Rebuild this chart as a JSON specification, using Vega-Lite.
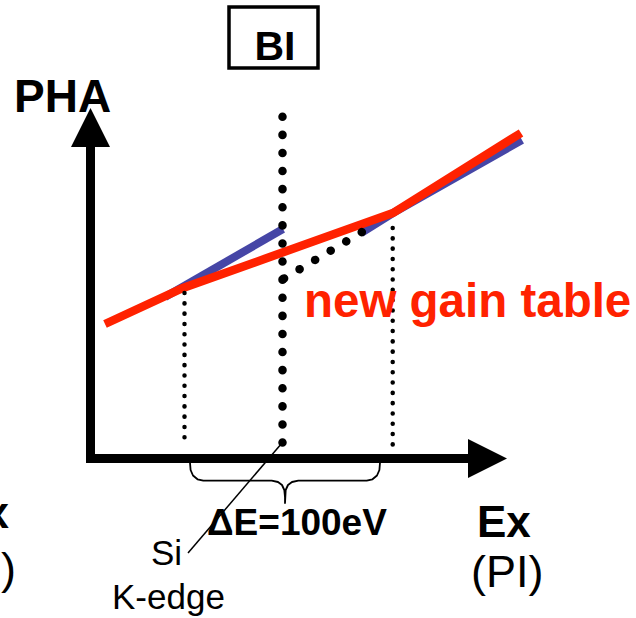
{
  "$schema": "https://vega.github.io/schema/vega-lite/v6.json",
  "width": 636,
  "height": 618,
  "autosize": "none",
  "padding": 0,
  "background": "white",
  "config": {"view": {"stroke": null}},
  "datasets": {
    "blue": [
      {"s": 1, "o": 1, "x": 165, "y": 297},
      {"s": 1, "o": 2, "x": 283, "y": 229},
      {"s": 2, "o": 1, "x": 361, "y": 233},
      {"s": 2, "o": 2, "x": 393, "y": 213},
      {"s": 2, "o": 3, "x": 522, "y": 140}
    ],
    "red": [
      {"s": 1, "o": 1, "x": 105, "y": 324},
      {"s": 1, "o": 2, "x": 183, "y": 288},
      {"s": 1, "o": 3, "x": 393, "y": 213},
      {"s": 1, "o": 4, "x": 521, "y": 133}
    ],
    "thin": [
      {"s": 1, "o": 1, "x": 184.5, "y": 293},
      {"s": 1, "o": 2, "x": 184.5, "y": 447},
      {"s": 2, "o": 1, "x": 392.7, "y": 228},
      {"s": 2, "o": 2, "x": 392.7, "y": 445}
    ],
    "thick": [
      {"s": 1, "o": 1, "x": 282.5, "y": 116.7},
      {"s": 1, "o": 2, "x": 282.5, "y": 460},
      {"s": 2, "o": 1, "x": 284, "y": 278.5},
      {"s": 2, "o": 2, "x": 362, "y": 232}
    ],
    "axes": [
      {"s": 1, "o": 1, "x": 90.5, "y": 463},
      {"s": 1, "o": 2, "x": 90.5, "y": 135},
      {"s": 2, "o": 1, "x": 86, "y": 458.5},
      {"s": 2, "o": 2, "x": 480, "y": 458.5}
    ],
    "arrowUp": [{"x": 90.5, "y": 127.5}],
    "arrowRight": [{"x": 487.5, "y": 458.5}],
    "box": [{"x": 229, "x2": 318, "y": 7, "y2": 68}],
    "brace": [
      {"o": 1, "x": 190, "y": 462.7},
      {"o": 2, "x": 190.6, "y": 470},
      {"o": 3, "x": 193, "y": 475.5},
      {"o": 4, "x": 197.5, "y": 479.3},
      {"o": 5, "x": 203.3, "y": 480.7},
      {"o": 6, "x": 271.7, "y": 480.7},
      {"o": 7, "x": 278, "y": 482},
      {"o": 8, "x": 282, "y": 485},
      {"o": 9, "x": 284.3, "y": 490},
      {"o": 10, "x": 285, "y": 497},
      {"o": 11, "x": 285, "y": 503},
      {"o": 12, "x": 285.7, "y": 490},
      {"o": 13, "x": 288, "y": 485},
      {"o": 14, "x": 292, "y": 482},
      {"o": 15, "x": 298.3, "y": 480.7},
      {"o": 16, "x": 366.7, "y": 480.7},
      {"o": 17, "x": 372.5, "y": 479.3},
      {"o": 18, "x": 377, "y": 475.5},
      {"o": 19, "x": 379.4, "y": 470},
      {"o": 20, "x": 380, "y": 462.7}
    ],
    "leader": [
      {"o": 1, "x": 188, "y": 553},
      {"o": 2, "x": 282, "y": 443}
    ],
    "pha": [{"x": 14, "y": 112, "t": "PHA"}],
    "ex": [{"x": 477, "y": 537, "t": "Ex"}],
    "boldBI": [{"x": 275, "y": 60, "t": "BI"}],
    "redText": [{"x": 304, "y": 317, "t": "new gain table"}],
    "delta": [{"x": 207, "y": 535, "t": "ΔE=100eV"}],
    "pi": [{"x": 471, "y": 587, "t": "(PI)"}],
    "si": [
      {"x": 151, "y": 565, "t": "Si"},
      {"x": 112, "y": 609, "t": "K-edge"}
    ],
    "edgeX": [{"x": 9, "y": 528, "t": "x"}],
    "edgeP": [{"x": 16, "y": 584, "t": ")"}]
  },
  "encoding": {
    "x": {"field": "x", "type": "quantitative", "scale": {"domain": [0, 636], "nice": false, "zero": false}, "axis": null},
    "y": {"field": "y", "type": "quantitative", "scale": {"domain": [0, 618], "nice": false, "zero": false, "reverse": true}, "axis": null}
  },
  "layer": [
    {
      "data": {"name": "blue"},
      "mark": {"type": "line", "color": "#4646a6", "strokeWidth": 8, "strokeCap": "butt"},
      "encoding": {"detail": {"field": "s"}, "order": {"field": "o"}}
    },
    {
      "data": {"name": "red"},
      "mark": {"type": "line", "color": "#ff2200", "strokeWidth": 8.5, "strokeCap": "butt"},
      "encoding": {"detail": {"field": "s"}, "order": {"field": "o"}}
    },
    {
      "data": {"name": "thin"},
      "mark": {"type": "line", "color": "black", "strokeWidth": 4.5, "strokeCap": "round", "strokeDash": [0.1, 10.2]},
      "encoding": {"detail": {"field": "s"}, "order": {"field": "o"}}
    },
    {
      "data": {"name": "thick"},
      "mark": {"type": "line", "color": "black", "strokeWidth": 8.5, "strokeCap": "round", "strokeDash": [0.1, 18]},
      "encoding": {"detail": {"field": "s"}, "order": {"field": "o"}}
    },
    {
      "data": {"name": "axes"},
      "mark": {"type": "line", "color": "black", "strokeWidth": 9, "strokeCap": "butt"},
      "encoding": {"detail": {"field": "s"}, "order": {"field": "o"}}
    },
    {
      "data": {"name": "arrowUp"},
      "mark": {"type": "point", "shape": "M0,-1L1,1L-1,1Z", "size": 1521, "filled": true, "color": "black", "opacity": 1, "strokeWidth": 0}
    },
    {
      "data": {"name": "arrowRight"},
      "mark": {"type": "point", "shape": "M1,0L-1,-1L-1,1Z", "size": 1521, "filled": true, "color": "black", "opacity": 1, "strokeWidth": 0}
    },
    {
      "data": {"name": "box"},
      "mark": {"type": "rect", "fill": "transparent", "stroke": "black", "strokeWidth": 3.5},
      "encoding": {"x2": {"field": "x2"}, "y2": {"field": "y2"}}
    },
    {
      "data": {"name": "brace"},
      "mark": {"type": "line", "color": "black", "strokeWidth": 1.8, "strokeJoin": "round"},
      "encoding": {"order": {"field": "o"}}
    },
    {
      "data": {"name": "leader"},
      "mark": {"type": "line", "color": "black", "strokeWidth": 1.5},
      "encoding": {"order": {"field": "o"}}
    },
    {
      "data": {"name": "pha"},
      "mark": {"type": "text", "font": "Liberation Sans", "fontWeight": "bold", "fontSize": 46, "align": "left", "baseline": "alphabetic", "color": "black"},
      "encoding": {"text": {"field": "t"}}
    },
    {
      "data": {"name": "ex"},
      "mark": {"type": "text", "font": "Liberation Sans", "fontWeight": "bold", "fontSize": 44, "align": "left", "baseline": "alphabetic", "color": "black"},
      "encoding": {"text": {"field": "t"}}
    },
    {
      "data": {"name": "boldBI"},
      "mark": {"type": "text", "font": "Liberation Sans", "fontWeight": "bold", "fontSize": 41, "align": "center", "baseline": "alphabetic", "color": "black"},
      "encoding": {"text": {"field": "t"}}
    },
    {
      "data": {"name": "redText"},
      "mark": {"type": "text", "font": "Liberation Sans", "fontWeight": "bold", "fontSize": 47.5, "align": "left", "baseline": "alphabetic", "color": "#ff2200"},
      "encoding": {"text": {"field": "t"}}
    },
    {
      "data": {"name": "delta"},
      "mark": {"type": "text", "font": "Liberation Sans", "fontWeight": "bold", "fontSize": 37, "align": "left", "baseline": "alphabetic", "color": "black"},
      "encoding": {"text": {"field": "t"}}
    },
    {
      "data": {"name": "pi"},
      "mark": {"type": "text", "font": "Liberation Sans", "fontSize": 45, "align": "left", "baseline": "alphabetic", "color": "black"},
      "encoding": {"text": {"field": "t"}}
    },
    {
      "data": {"name": "si"},
      "mark": {"type": "text", "font": "Liberation Sans", "fontSize": 35, "align": "left", "baseline": "alphabetic", "color": "black"},
      "encoding": {"text": {"field": "t"}}
    },
    {
      "data": {"name": "edgeX"},
      "mark": {"type": "text", "font": "Liberation Sans", "fontWeight": "bold", "fontSize": 44, "align": "right", "baseline": "alphabetic", "color": "black"},
      "encoding": {"text": {"field": "t"}}
    },
    {
      "data": {"name": "edgeP"},
      "mark": {"type": "text", "font": "Liberation Sans", "fontSize": 45, "align": "right", "baseline": "alphabetic", "color": "black"},
      "encoding": {"text": {"field": "t"}}
    }
  ]
}
